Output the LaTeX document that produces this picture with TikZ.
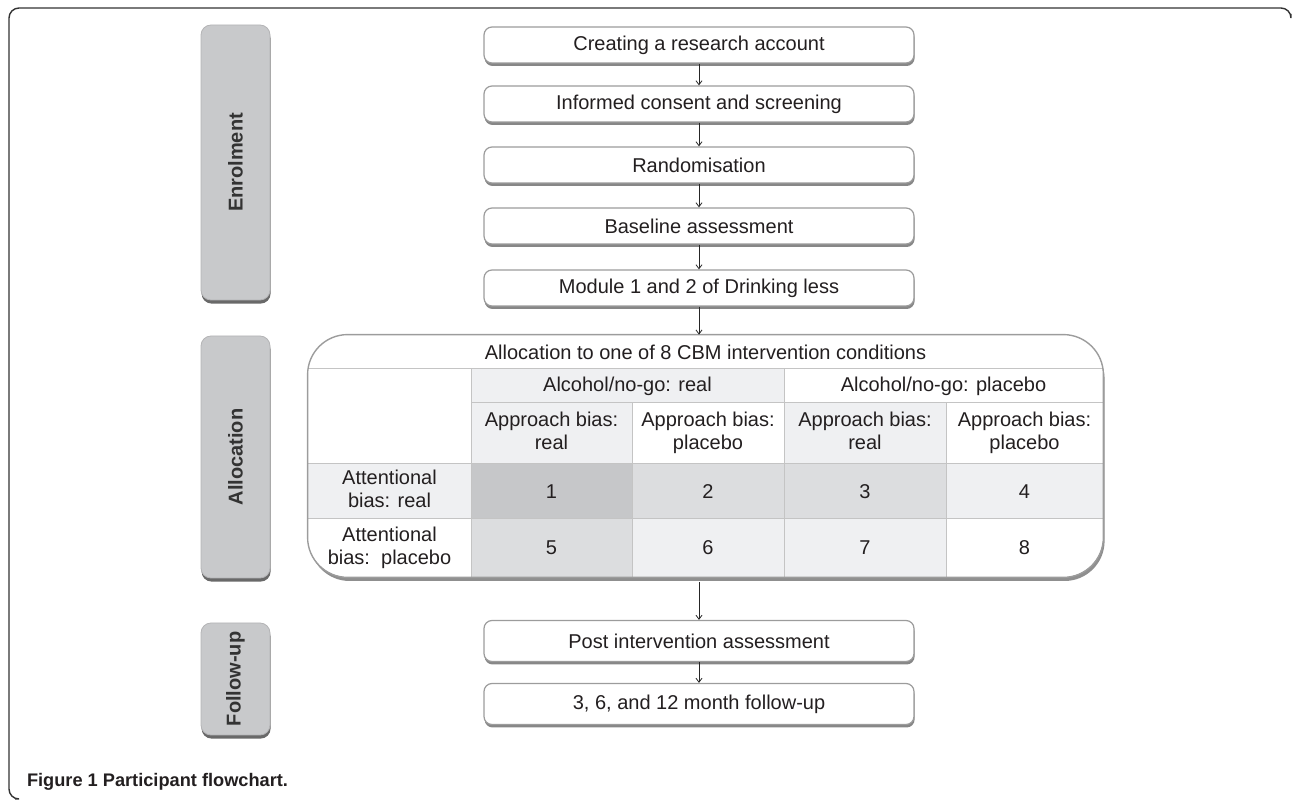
\documentclass[tikz,border=0pt]{standalone}
\usepackage{fontspec}
\setmainfont{Liberation Sans}
\usetikzlibrary{arrows.meta,shadows}
\definecolor{txt}{HTML}{231F20}
\definecolor{boxline}{HTML}{9C9C9C}
\definecolor{shadowc}{HTML}{7A7A7A}
\definecolor{sidefill}{HTML}{C8C9CB}
\definecolor{sideline}{HTML}{B4B4B6}
\definecolor{gridc}{HTML}{C4C4C4}
\definecolor{shA}{HTML}{C6C7C9}
\definecolor{shB}{HTML}{DCDDDF}
\definecolor{shC}{HTML}{EFF0F2}
\begin{document}
\begin{tikzpicture}[x=0.5pt,y=-0.5pt,
  every node/.style={text=txt, font=\fontsize{10}{11.5}\selectfont},
  stepbox/.style={draw=boxline, line width=0.6pt, fill=white, rounded corners=4pt,
    minimum width=215pt, minimum height=18pt, inner sep=0pt,
    drop shadow={shadow xshift=0.3pt, shadow yshift=-1.5pt, fill=shadowc, opacity=0.9}},
  sidebox/.style={draw=sideline, fill=sidefill, rounded corners=5pt, minimum width=34.5pt, inner sep=0pt,
    drop shadow={shadow xshift=0.3pt, shadow yshift=-1.8pt, fill=black!65, opacity=0.9}},
  sidetext/.style={rotate=90, font=\fontsize{10}{12}\selectfont\bfseries, text=black!80},
  arr/.style={-{Straight Barb[length=2pt,width=3pt]}, line width=0.4pt, draw=black!85},
  cell/.style={align=center, inner sep=0pt},
  gridline/.style={draw=gridc, line width=0.5pt}
]
\useasboundingbox (0,0) rectangle (1292,801);
% outer frame
\draw[line width=0.7pt, black!80, rounded corners=5pt] (1291,14) |- (9,8) |- (15,799);
% caption
\node[anchor=base west, font=\fontsize{9.1}{11}\selectfont\bfseries] (cap) at (20,787) {Figure 1 Participant flowchart.};
% side labels
\node[sidebox, minimum height=137.5pt] (enr) at (235.5,162.5) {};
\node[sidetext] (enrt) at (enr) {Enrolment};
\node[sidebox, minimum height=121pt] (all) at (235.5,457) {};
\node[sidetext] (allt) at (all) {Allocation};
\node[sidebox, minimum height=56pt] (fol) at (235.5,679) {};
\node[sidetext] (folt) at (fol) {Follow-up};
% main boxes
\node[stepbox] (b1) at (699,45) {Creating a research account};
\node[stepbox] (b2) at (699,104) {Informed consent and screening};
\node[stepbox] (b3) at (699,165) {Randomisation};
\node[stepbox] (b4) at (699,226) {Baseline assessment};
\node[stepbox] (b5) at (699,288) {Module 1 and 2 of Drinking less};
\node[stepbox, minimum height=20.5pt] (post) at (699,641) {Post intervention assessment};
\node[stepbox, minimum height=20.5pt] (fu) at (699,704) {3, 6, and 12 month follow-up};
% allocation box
\node[fill=white, rounded corners=20pt, minimum width=397.5pt, minimum height=121pt, inner sep=0pt,
  drop shadow={shadow xshift=0.8pt, shadow yshift=-2pt, fill=black!55, opacity=0.8}] (alloc) at (705.5,456) {};
\fill[shC] (471,369) rectangle (784,403);
\fill[shC] (471,403) rectangle (632,464);
\fill[shC] (784,403) rectangle (946,464);
\fill[shC] (308,464) rectangle (471,519);
\fill[shA] (471,464) rectangle (632,519);
\fill[shB] (632,464) rectangle (784,519);
\fill[shB] (784,464) rectangle (946,519);
\fill[shC] (946,464) rectangle (1103,519);
\fill[shB] (471,519) rectangle (632,577);
\fill[shC] (632,519) rectangle (784,577);
\fill[shC] (784,519) rectangle (946,577);
\draw[gridline] (308,369) -- (1103,369);
\draw[gridline] (471,403) -- (1103,403);
\draw[gridline] (308,464) -- (1103,464);
\draw[gridline] (308,519) -- (1103,519);
\draw[gridline] (471,369) -- (471,577);
\draw[gridline] (632,403) -- (632,577);
\draw[gridline] (784,369) -- (784,577);
\draw[gridline] (946,403) -- (946,577);
\draw[draw=boxline, line width=0.7pt, rounded corners=20pt] (alloc.north west) rectangle (alloc.south east);
% table texts
\node[cell] (title) at (705.5,352) {Allocation to one of 8 CBM intervention conditions};
\node[cell] (h1) at (627.5,386) {Alcohol/no-go: real};
\node[cell] (h2) at (943.5,386) {Alcohol/no-go: placebo};
\node[cell] (a1) at (551.5,433.5) {\strut Approach bias:\\\strut real};
\node[cell] (a2) at (708,433.5) {\strut Approach bias:\\\strut placebo};
\node[cell] (a3) at (865,433.5) {\strut Approach bias:\\\strut real};
\node[cell] (a4) at (1024.5,433.5) {\strut Approach bias:\\\strut placebo};
\node[cell] (r1) at (389.5,491.5) {\strut Attentional\\\strut bias: real};
\node[cell] (r2) at (389.5,548) {\strut Attentional\\\strut bias:\ \ placebo};
\node[cell] (c1) at (551.5,491.5) {1};
\node[cell] (c2) at (708,491.5) {2};
\node[cell] (c3) at (865,491.5) {3};
\node[cell] (c4) at (1024.5,491.5) {4};
\node[cell] (c5) at (551.5,548) {5};
\node[cell] (c6) at (708,548) {6};
\node[cell] (c7) at (865,548) {7};
\node[cell] (c8) at (1024.5,548) {8};
% arrows
\draw[arr] (b1) -- (b2);
\draw[arr] (b2) -- (b3);
\draw[arr] (b3) -- (b4);
\draw[arr] (b4) -- (b5);
\draw[arr] (b5.south) -- (b5.south |- alloc.north);
\draw[arr] (post.north |- alloc.south) ++(0,5) -- (post.north);
\draw[arr] (post) -- (fu);
\end{tikzpicture}
\end{document}
